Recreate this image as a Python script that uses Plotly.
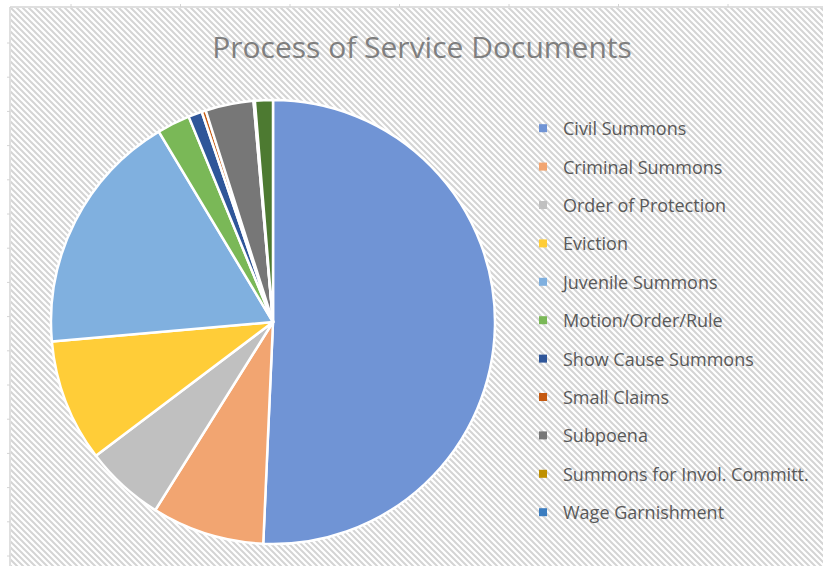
import base64
import plotly.graph_objects as go

# ---- data (percent of documents) ----
categories = [
    "Civil Summons", "Criminal Summons", "Order of Protection", "Eviction",
    "Juvenile Summons", "Motion/Order/Rule", "Show Cause Summons", "Small Claims",
    "Subpoena", "Summons for Invol. Committ.", "Wage Garnishment", "Other",
]
values = [50.7, 8.2, 5.8, 8.9, 17.8, 2.4, 1.0, 0.3, 3.5, 0.05, 0.05, 1.3]
legend_categories = categories[:11]  # the 12th slice has no visible legend entry

colors = [
    "#7094d5", "#f2a571", "#c0c0c0", "#ffcd38",
    "#80b0df", "#7ab857", "#2f5699", "#c55a11",
    "#777777", "#bf9000", "#3b7dc0", "#4d7a31",
]

W, H = 823, 566
cx, cy, r = 273, 322, 222

fig = go.Figure()
fig.add_trace(go.Pie(
    labels=categories, values=values, sort=False, direction="clockwise",
    rotation=0, textinfo="none", hoverinfo="label+percent",
    marker=dict(colors=colors, line=dict(color="white", width=2.5)),
    domain=dict(x=[(cx - r) / W, (cx + r) / W], y=[(H - cy - r) / H, (H - cy + r) / H]),
    showlegend=False,
))

for name, col in zip(legend_categories, colors):
    fig.add_trace(go.Scatter(
        x=[None], y=[None], mode="markers", name=name, legendgroup=name,
        marker=dict(symbol="square", size=8, color=col),
        hoverinfo="skip",
    ))

# hatched background (Excel style)
svg = (
    f'<svg xmlns="http://www.w3.org/2000/svg" width="{W-11}" height="{H-8}">'
    '<defs><pattern id="p" width="6" height="6" patternUnits="userSpaceOnUse">'
    '<path d="M0,0 L6,6 M-3,3 L3,9 M3,-3 L9,3" stroke="#d4d4d4" stroke-width="2"/>'
    '</pattern></defs>'
    f'<rect width="{W-11}" height="{H-8}" fill="white"/>'
    f'<rect width="{W-11}" height="{H-8}" fill="url(#p)"/></svg>'
)
src = "data:image/svg+xml;base64," + base64.b64encode(svg.encode()).decode()

shapes = [
    dict(type="line", xref="paper", yref="paper", x0=10 / W, x1=1, y0=1 - 7 / H, y1=1 - 7 / H,
         line=dict(color="#d4d4d4", width=1.5)),
    dict(type="line", xref="paper", yref="paper", x0=10 / W, x1=10 / W, y0=0, y1=1 - 7 / H,
         line=dict(color="#d4d4d4", width=1.5)),
]
tx = 71
while tx < W:
    shapes.append(dict(type="line", xref="paper", yref="paper", x0=tx / W, x1=tx / W,
                       y0=1 - 7 / H, y1=1 - 4 / H, line=dict(color="#d4d4d4", width=1)))
    tx += 109.5
ty = 43
while ty < H:
    shapes.append(dict(type="line", xref="paper", yref="paper", x0=7 / W, x1=10 / W,
                       y0=1 - ty / H, y1=1 - ty / H, line=dict(color="#d4d4d4", width=1)))
    ty += 34.2

fig.update_layout(
    width=W, height=H,
    margin=dict(l=0, r=0, t=0, b=0),
    paper_bgcolor="white", plot_bgcolor="rgba(0,0,0,0)",
    xaxis=dict(visible=False), yaxis=dict(visible=False),
    title=dict(text="Process of Service Documents", x=422 / W, xanchor="center",
               y=1 - 47 / H, yanchor="middle",
               font=dict(family="Open Sans", size=30, color="#7f7f7f")),
    legend=dict(x=523 / W, xanchor="left", y=1 - 110 / H, yanchor="top",
                font=dict(family="Open Sans", size=18, color="#595959"),
                bgcolor="rgba(0,0,0,0)", tracegroupgap=12, itemclick=False),
    images=[dict(source=src, xref="paper", yref="paper", x=11 / W, y=1 - 8 / H,
                 sizex=(W - 11) / W, sizey=(H - 8) / H, xanchor="left", yanchor="top",
                 sizing="stretch", layer="below")],
    shapes=shapes,
)

fig.write_html("out.html")
